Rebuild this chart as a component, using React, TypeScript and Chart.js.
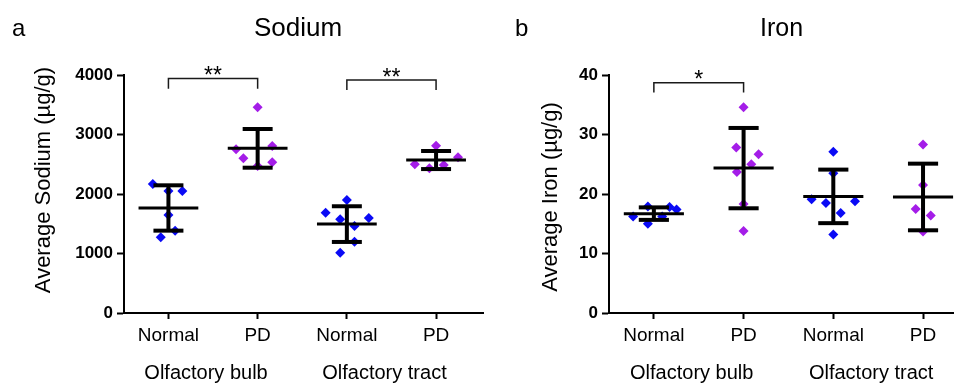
import React, { useEffect, useRef } from "react";
import { Chart, registerables } from "chart.js";

Chart.register(...registerables);

const FONT = '"Liberation Sans", Arial, Helvetica, sans-serif';

// ---------- shared categories ----------
const categories = ["Normal", "PD", "Normal", "PD"];
const regions = ["Olfactory bulb", "Olfactory tract"];
const categoryColors = ["#0A0AF5", "#A41DE8", "#0A0AF5", "#A41DE8"];

// ---------- Sodium (µg/g) ----------
const sodiumBulbNormal = [2168, 2050, 2050, 1647, 1383, 1272];
const sodiumBulbPD = [3457, 2751, 2807, 2600, 2471, 2533];
const sodiumTractNormal = [1899, 1686, 1574, 1597, 1462, 1199, 1014];
const sodiumTractPD = [2812, 2499, 2431, 2487, 2616];
const sodiumMean = [1765, 2767, 1494, 2571];
const sodiumSD = [381, 325, 300, 152];
const sodiumTicks = [0, 1000, 2000, 3000, 4000];
// horizontal scatter of the points, in category widths
const sodiumJitter = [
  [-0.175, 0, 0.156, 0, 0.075, -0.086],
  [0, -0.242, 0.164, -0.16, 0, 0.164],
  [0, -0.238, -0.075, 0.246, 0.086, 0.086, -0.075],
  [0, -0.238, -0.075, 0.086, 0.246],
];
const sodiumSignif = [
  { from: 0, to: 1, top: 3940, foot: 3770, label: "**" },
  { from: 2, to: 3, top: 3915, foot: 3750, label: "**" },
];

// ---------- Iron (µg/g) ----------
const ironBulbNormal = [16.2, 17.9, 16.2, 17.8, 17.4, 15.0];
const ironBulbPD = [34.6, 27.8, 26.7, 25.0, 23.7, 18.3, 13.8];
const ironTractNormal = [27.1, 23.5, 19.1, 18.5, 18.8, 16.8, 13.2];
const ironTractPD = [28.3, 21.5, 17.5, 16.4, 13.7];
const ironMean = [16.7, 24.35, 19.6, 19.5];
const ironSD = [1.05, 6.75, 4.5, 5.6];
const ironTicks = [0, 10, 20, 30, 40];
const ironJitter = [
  [-0.231, -0.067, 0.093, 0.175, 0.253, -0.067],
  [0, -0.082, 0.167, 0.086, -0.075, 0, 0],
  [0, 0, -0.242, -0.082, 0.242, 0.082, 0],
  [0, 0, -0.082, 0.086, 0],
];
const ironSignif = [{ from: 0, to: 1, top: 38.7, foot: 37.05, label: "*" }];

// ---------- layout (not data) ----------
const MEAN_HALF = 0.335;
const CAP_HALF = 0.168;

type PanelCfg = {
  letter: string;
  title: string;
  yTitle: string;
  values: number[][];
  jitter: number[][];
  means: number[];
  sds: number[];
  ticks: number[];
  signif: { from: number; to: number; top: number; foot: number; label: string }[];
  left: number;
  width: number;
  areaLeft: number;
  areaRight: number;
  xMin: number;
  xMax: number;
  letterX: number;
  titleX: number;
  titleSize: number;
  yTitleX: number;
  yTitleY: number;
};

const sodiumPanel: PanelCfg = {
  letter: "a",
  title: "Sodium",
  yTitle: "Average Sodium (µg/g)",
  values: [sodiumBulbNormal, sodiumBulbPD, sodiumTractNormal, sodiumTractPD],
  jitter: sodiumJitter,
  means: sodiumMean,
  sds: sodiumSD,
  ticks: sodiumTicks,
  signif: sodiumSignif,
  left: 0,
  width: 490,
  areaLeft: 124,
  areaRight: 483,
  xMin: -0.498,
  xMax: 3.526,
  letterX: 12,
  titleX: 298,
  titleSize: 26,
  yTitleX: 44,
  yTitleY: 180,
};

const ironPanel: PanelCfg = {
  letter: "b",
  title: "Iron",
  yTitle: "Average Iron (µg/g)",
  values: [ironBulbNormal, ironBulbPD, ironTractNormal, ironTractPD],
  jitter: ironJitter,
  means: ironMean,
  sds: ironSD,
  ticks: ironTicks,
  signif: ironSignif,
  left: 490,
  width: 468,
  areaLeft: 119,
  areaRight: 463,
  xMin: -0.5,
  xMax: 3.334,
  letterX: 25,
  titleX: 291.5,
  titleSize: 25,
  yTitleX: 61,
  yTitleY: 197,
};

const HEIGHT = 383;
const AREA_TOP = 75;
const AREA_BOTTOM = 313;

function lineDs(data: { x: number; y: number }[], width: number, color = "#000") {
  return {
    type: "scatter" as const,
    data,
    showLine: true,
    borderColor: color,
    borderWidth: width,
    borderCapStyle: "butt" as const,
    pointRadius: 0,
    pointHoverRadius: 0,
    fill: false,
    clip: false as const,
    order: 0,
  };
}

function buildChart(canvas: HTMLCanvasElement, p: PanelCfg) {
  const datasets: any[] = [];
  p.means.forEach((m, i) => {
    const sd = p.sds[i];
    datasets.push(lineDs([{ x: i - MEAN_HALF, y: m }, { x: i + MEAN_HALF, y: m }], 3));
    datasets.push(lineDs([{ x: i, y: m - sd }, { x: i, y: m + sd }], 4));
    datasets.push(lineDs([{ x: i - CAP_HALF, y: m + sd }, { x: i + CAP_HALF, y: m + sd }], 4));
    datasets.push(lineDs([{ x: i - CAP_HALF, y: m - sd }, { x: i + CAP_HALF, y: m - sd }], 4));
  });
  p.signif.forEach((s) =>
    datasets.push(
      lineDs(
        [
          { x: s.from, y: s.foot },
          { x: s.from, y: s.top },
          { x: s.to, y: s.top },
          { x: s.to, y: s.foot },
        ],
        1.5,
        "#1a1a1a"
      )
    )
  );
  p.values.forEach((vals, i) =>
    datasets.push({
      type: "scatter",
      data: vals.map((v, j) => ({ x: i + p.jitter[i][j], y: v })),
      pointStyle: "rectRot",
      pointRadius: 5,
      pointHoverRadius: 5,
      pointBackgroundColor: categoryColors[i],
      pointBorderColor: categoryColors[i],
      pointBorderWidth: 0,
      showLine: false,
      clip: false,
      order: 1,
    })
  );

  const annot = {
    id: "annot",
    afterDraw(chart: any) {
      const ctx = chart.ctx as CanvasRenderingContext2D;
      const xs = chart.scales.x;
      const ys = chart.scales.y;
      ctx.save();
      ctx.fillStyle = "#000";
      // panel letter
      ctx.font = `24px ${FONT}`;
      ctx.textAlign = "left";
      ctx.textBaseline = "alphabetic";
      ctx.fillText(p.letter, p.letterX, 35.5);
      // title
      ctx.font = `${p.titleSize}px ${FONT}`;
      ctx.textAlign = "center";
      ctx.fillText(p.title, p.titleX, 36);
      // y title
      ctx.save();
      ctx.translate(p.yTitleX, p.yTitleY);
      ctx.rotate(-Math.PI / 2);
      ctx.font = `22px ${FONT}`;
      ctx.textAlign = "center";
      ctx.textBaseline = "middle";
      ctx.fillText(p.yTitle, 0, 0);
      ctx.restore();
      // region labels
      ctx.font = `20px ${FONT}`;
      ctx.textAlign = "center";
      ctx.textBaseline = "alphabetic";
      regions.forEach((r, k) => {
        const cx = (xs.getPixelForValue(2 * k) + xs.getPixelForValue(2 * k + 1)) / 2 - 7;
        ctx.fillText(r, cx, 379);
      });
      // significance stars
      ctx.font = `23px ${FONT}`;
      p.signif.forEach((s) => {
        const cx = (xs.getPixelForValue(s.from) + xs.getPixelForValue(s.to)) / 2;
        const cy = ys.getPixelForValue(s.top) + 4.5;
        ctx.fillText(s.label, cx, cy);
      });
      ctx.restore();
    },
  };

  return new Chart(canvas, {
    type: "scatter",
    data: { datasets },
    plugins: [annot],
    options: {
      animation: false,
      responsive: false,
      events: [],
      layout: {
        padding: { left: 0, right: p.width - p.areaRight, top: AREA_TOP, bottom: 0 },
      },
      plugins: { legend: { display: false }, tooltip: { enabled: false }, title: { display: false } },
      scales: {
        x: {
          type: "linear",
          min: p.xMin,
          max: p.xMax,
          afterBuildTicks: (s: any) => {
            s.ticks = categories.map((_, i) => ({ value: i }));
          },
          afterFit: (s: any) => {
            s.height = HEIGHT - AREA_BOTTOM;
          },
          ticks: {
            autoSkip: false,
            maxRotation: 0,
            padding: 5,
            color: "#000",
            font: { family: FONT, size: 19 },
            callback: (_v: any, i: number) => categories[i],
          },
          grid: { drawOnChartArea: false, drawTicks: true, tickLength: 6, tickWidth: 2, tickColor: "#000" },
          border: { display: true, width: 2, color: "#000" },
        },
        y: {
          type: "linear",
          min: p.ticks[0],
          max: p.ticks[p.ticks.length - 1],
          afterBuildTicks: (s: any) => {
            s.ticks = p.ticks.map((v) => ({ value: v }));
          },
          afterFit: (s: any) => {
            s.width = p.areaLeft;
          },
          ticks: {
            padding: 4,
            color: "#000",
            font: { family: FONT, size: 17, weight: "bold" },
            callback: (v: any) => String(v),
          },
          grid: { drawOnChartArea: false, drawTicks: true, tickLength: 7, tickWidth: 2, tickColor: "#000" },
          border: { display: true, width: 2, color: "#000" },
        },
      },
    } as any,
  });
}

function Panel({ cfg }: { cfg: PanelCfg }) {
  const ref = useRef<HTMLCanvasElement | null>(null);
  useEffect(() => {
    if (!ref.current) return;
    const chart = buildChart(ref.current, cfg);
    return () => chart.destroy();
  }, [cfg]);
  return (
    <canvas
      ref={ref}
      width={cfg.width}
      height={HEIGHT}
      style={{ position: "absolute", left: cfg.left, top: 0, width: cfg.width, height: HEIGHT }}
    />
  );
}

export default function App() {
  return (
    <div style={{ position: "fixed", left: 0, top: 0, width: 958, height: HEIGHT, background: "#fff" }}>
      <Panel cfg={sodiumPanel} />
      <Panel cfg={ironPanel} />
    </div>
  );
}
